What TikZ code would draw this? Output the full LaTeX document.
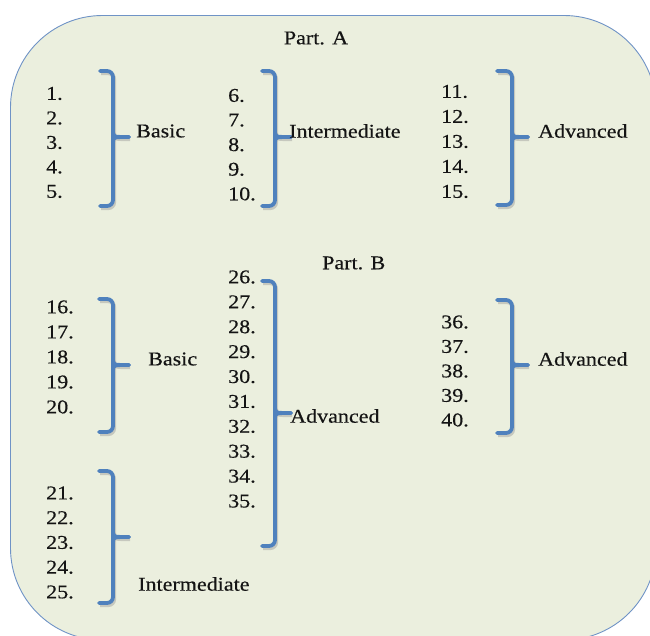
\documentclass[tikz,border=0pt]{standalone}
\usepackage{fontspec}
\setmainfont[FakeStretch=1.13,FakeBold=0.35]{Liberation Serif}
\definecolor{bg}{HTML}{EBEFDE}
\definecolor{edge}{HTML}{6F93C6}
\definecolor{br}{HTML}{4F81BD}
\newcommand\mybrace[7]{%
  % #1 xl, #2 xv, #3 xt, #4 yt, #5 ym, #6 yb, #7 name
  \begin{scope}[shift={(1.2,2.2)}]
    \draw[braceshadow,rounded corners=6pt] (#1,#4) -- (#2,#4) -- (#2,#6) -- (#1,#6);
    \draw[braceshadow] (#2,#5-6) .. controls (#2,#5) .. (#3,#5);
  \end{scope}
  \draw[bracepen,rounded corners=6pt] (#1,#4) -- (#2,#4) -- (#2,#6) -- (#1,#6);
  \draw[bracepen] (#2,#5-6) .. controls (#2,#5) .. (#3,#5) coordinate (#7);
  \draw[bracepen] (#2,#5+6) .. controls (#2,#5) .. (#3,#5);
}
\begin{document}
\begin{tikzpicture}[x=1pt,y=-1pt,
  every node/.style={inner sep=0pt, font=\fontsize{19.5}{21}\selectfont, text=black!92},
  num/.style={anchor=west},
  lbl/.style={anchor=west},
  bracepen/.style={draw=br, line width=3.8pt, line cap=round, line join=round},
  braceshadow/.style={draw=black!40, line width=3.8pt, opacity=0.45}]
\useasboundingbox (0,0) rectangle (650,635);
\draw[fill=bg, draw=edge, line width=0.9pt, rounded corners=92pt] (10.5,15.5) rectangle (656,640);

% Part A
\node (partA) at (316,38) {Part. A};
\foreach \n [count=\i from 0] in {1,...,5} {\node[num] (n\n) at (46,93.5+24.5*\i) {\n.};}
\foreach \n [count=\i from 0] in {6,...,10} {\node[num] (n\n) at (228,95.5+24.6*\i) {\n.};}
\foreach \n [count=\i from 0] in {11,...,15} {\node[num] (n\n) at (441,91.5+25*\i) {\n.};}
\mybrace{100}{113}{129}{71}{137}{206}{b1}
\mybrace{262}{275}{291}{71}{137}{206}{b2}
\mybrace{497}{512}{528}{71}{137}{205}{b3}
\node[lbl] (basicA) at (136,131) {Basic};
\node[lbl] (interA) at (289,131) {Intermediate};
\node[lbl] (advA) at (538,131) {Advanced};

% Part B
\node[lbl] (partB) at (322,263) {Part. B};
\foreach \n [count=\i from 0] in {16,...,20} {\node[num] (n\n) at (46,307+25*\i) {\n.};}
\foreach \n [count=\i from 0] in {21,...,25} {\node[num] (n\n) at (46,493+24.75*\i) {\n.};}
\foreach \n [count=\i from 0] in {26,...,35} {\node[num] (n\n) at (228,277+24.9*\i) {\n.};}
\foreach \n [count=\i from 0] in {36,...,40} {\node[num] (n\n) at (441,322+24.5*\i) {\n.};}
\mybrace{99}{113}{129}{299}{365}{432}{b4}
\mybrace{262}{275}{291}{281}{413}{546}{b5}
\mybrace{497}{512}{528}{300}{365}{433}{b6}
\mybrace{99}{113}{129}{471}{537}{603}{b7}
\node[lbl] (basicB) at (148,359) {Basic};
\node[lbl] (advB) at (290,416) {Advanced};
\node[lbl] (advB2) at (538,359) {Advanced};
\node[lbl] (interB) at (138,584) {Intermediate};
\end{tikzpicture}
\end{document}
